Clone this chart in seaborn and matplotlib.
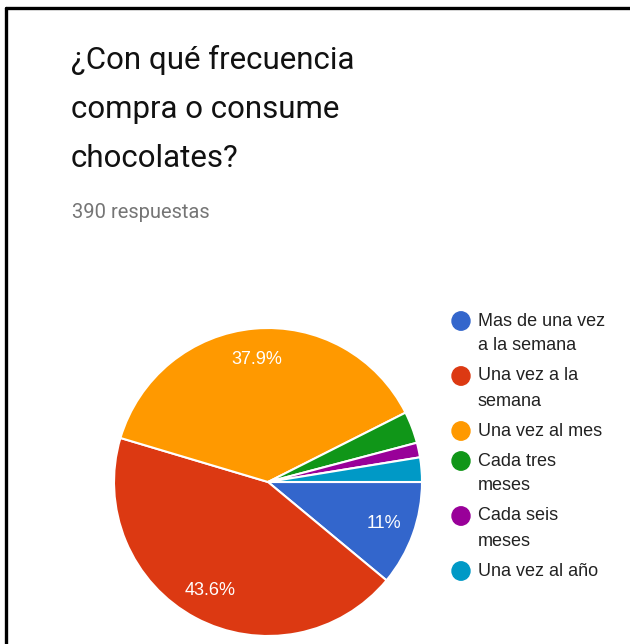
import matplotlib
matplotlib.use("Agg")
import matplotlib.pyplot as plt
import seaborn as sns

# Survey answers: how often chocolates are bought or eaten (390 responses)
categories = [
    "Mas de una vez\na la semana",
    "Una vez a la\nsemana",
    "Una vez al mes",
    "Cada tres\nmeses",
    "Cada seis\nmeses",
    "Una vez al año",
]
counts = [43, 170, 148, 13, 6, 10]
colors = ["#3366CC", "#DC3912", "#FF9900", "#109618", "#990099", "#0099C6"]

title_lines = ["¿Con qué frecuencia", "compra o consume", "chocolates?"]
subtitle = "390 respuestas"

sns.set_theme(style="white")
plt.rcParams["font.family"] = ["Roboto", "DejaVu Sans"]
label_font = ["Liberation Sans", "DejaVu Sans"]

W, H = 630, 644
fig = plt.figure(figsize=(W / 100, H / 100), dpi=100)
fig.patch.set_facecolor("white")


def fx(px):
    return px / W


def fy(py):
    return 1 - py / H


# frame lines along the top and left edges
fig.add_artist(plt.Line2D([fx(6), fx(630)], [fy(8), fy(8)], color="black", lw=2.4))
fig.add_artist(plt.Line2D([fx(6), fx(6)], [fy(8), fy(644)], color="black", lw=2.4))

# title and response count
for i, line in enumerate(title_lines):
    fig.text(fx(71), fy(69 + 49 * i), line, fontsize=22.5, color="#111111",
             va="baseline", ha="left")
fig.text(fx(72), fy(218), subtitle, fontsize=14.5, color="#757575",
         va="baseline", ha="left")

# pie
cx, cy, r = 268, 482, 154
ax = fig.add_axes([fx(cx - r), fy(cy + r), 2 * r / W, 2 * r / H])


def pct_label(p):
    if p < 5:
        return ""
    s = f"{p:.1f}"
    if s.endswith(".0"):
        s = s[:-2]
    return s + "%"


wedges, texts, autotexts = ax.pie(
    counts, colors=colors, startangle=0, counterclock=False,
    autopct=pct_label, pctdistance=0.8,
    wedgeprops=dict(edgecolor="white", linewidth=1.5),
    textprops=dict(color="white", fontsize=13, family=label_font),
)
ax.set_xlim(-1.0, 1.0)
ax.set_ylim(-1.0, 1.0)
ax.set_aspect("equal")
ax.axis("off")

# legend with circular markers
y = 321
for label, color in zip(categories, colors):
    fig.add_artist(plt.Circle((fx(461), fy(y)), 9 / W, color=color,
                              transform=fig.transFigure))
    for j, part in enumerate(label.split("\n")):
        fig.text(fx(478), fy(y + 25 * j), part, fontsize=13, color="#222222",
                 va="center", ha="left", family=label_font)
    y += 25 * (len(label.split("\n")) - 1) + 30

fig.savefig("out.png", dpi=100, facecolor="white")
